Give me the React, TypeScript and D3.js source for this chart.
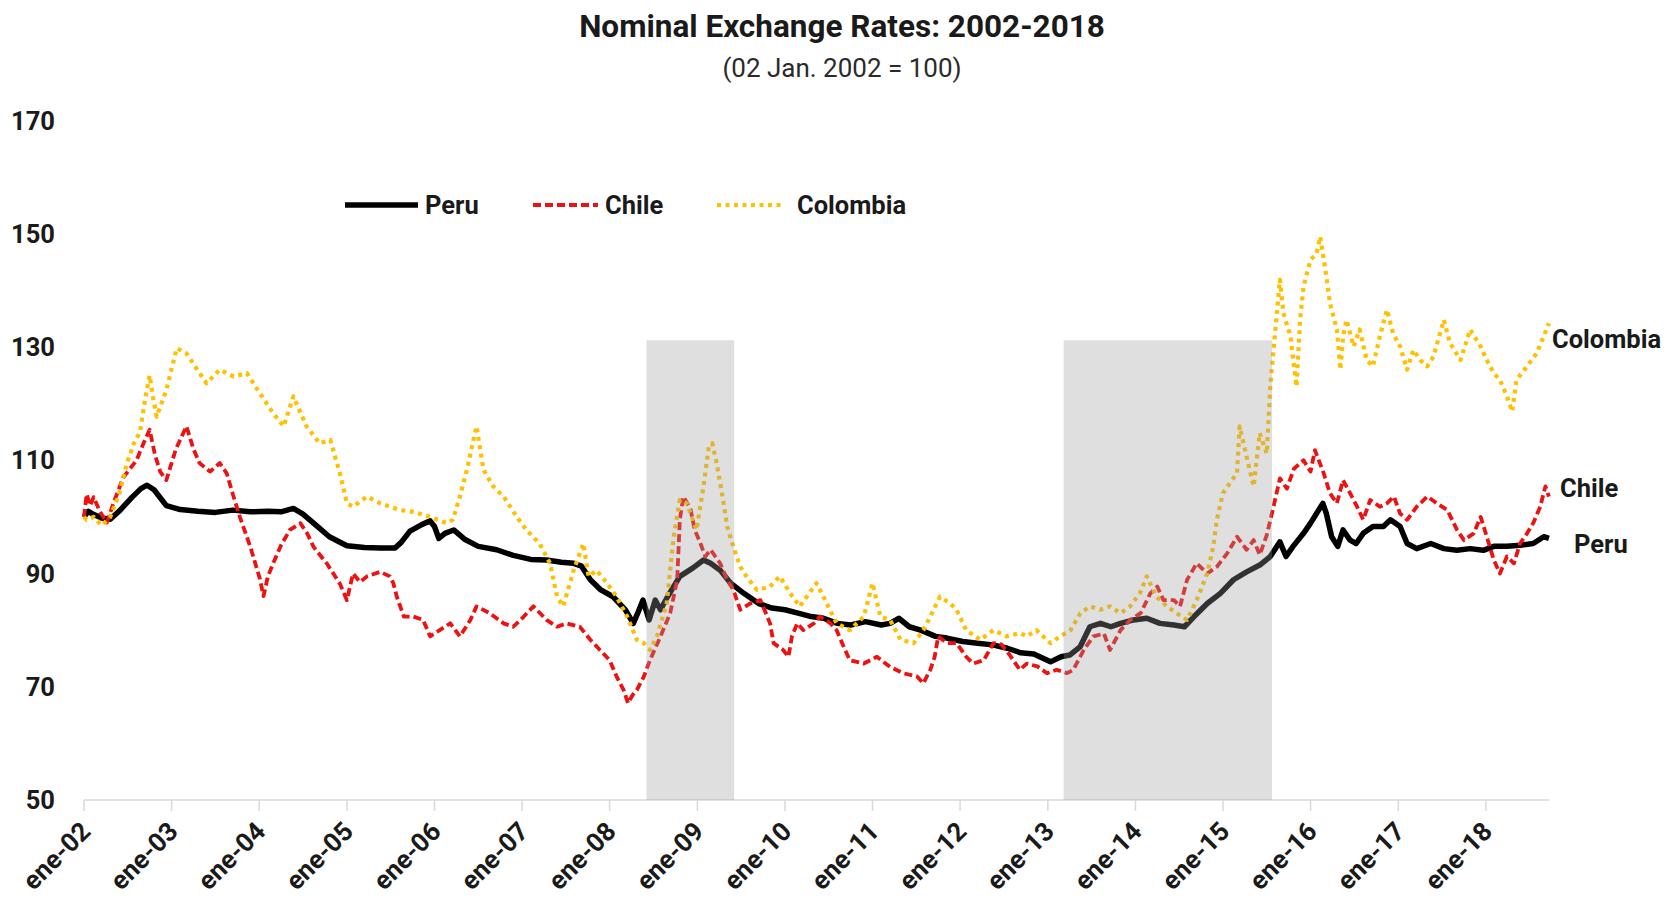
import React, { useEffect } from "react";
import * as d3 from "d3";

// Nominal exchange rate indices (02 Jan 2002 = 100), [decimal year, index]
const peruSeries: [number, number][] = [
  [2002.0, 100], [2002.05, 101], [2002.1, 100.5], [2002.2, 99.8], [2002.3, 99.6], [2002.4, 101], [2002.55, 103.5], [2002.65, 105], [2002.72, 105.6], [2002.8, 104.8], [2002.94, 102],
  [2003.1, 101.3], [2003.3, 101], [2003.5, 100.8], [2003.7, 101.2], [2003.9, 100.9], [2004.1, 101], [2004.25, 100.9], [2004.39, 101.5], [2004.5, 100.5], [2004.65, 98.5], [2004.8, 96.5],
  [2005.0, 94.9], [2005.2, 94.6], [2005.38, 94.5], [2005.55, 94.5], [2005.62, 95.5], [2005.72, 97.5], [2005.85, 98.6], [2005.95, 99.3], [2006.0, 98.3], [2006.05, 96.2], [2006.12, 97.1],
  [2006.22, 97.7], [2006.35, 96], [2006.5, 94.8], [2006.71, 94.2], [2006.9, 93.2], [2007.1, 92.5], [2007.28, 92.4], [2007.45, 92], [2007.59, 91.8], [2007.68, 91.3], [2007.78, 88.9],
  [2007.9, 87.1], [2008.04, 85.9], [2008.18, 83.6], [2008.27, 81.2], [2008.32, 83], [2008.38, 85.3], [2008.45, 81.8], [2008.52, 85.3], [2008.58, 83.6], [2008.66, 85.9], [2008.8, 89.5],
  [2008.95, 91], [2009.07, 92.4], [2009.15, 91.8], [2009.26, 90.6], [2009.38, 88.3], [2009.53, 86.5], [2009.7, 84.7], [2009.85, 83.9], [2010.0, 83.6], [2010.15, 83], [2010.3, 82.4],
  [2010.44, 82.1], [2010.6, 81.2], [2010.75, 80.9], [2010.92, 81.5], [2011.1, 80.9], [2011.2, 81.2], [2011.3, 82.1], [2011.42, 80.6], [2011.55, 80], [2011.72, 78.9], [2011.85, 78.6],
  [2012.03, 78], [2012.2, 77.7], [2012.37, 77.4], [2012.54, 76.8], [2012.69, 76], [2012.84, 75.8], [2013.03, 74.4], [2013.15, 75.3], [2013.25, 75.6], [2013.37, 77.1], [2013.48, 80.6],
  [2013.6, 81.2], [2013.72, 80.6], [2013.83, 81.2], [2013.98, 81.8], [2014.13, 82.1], [2014.28, 81.2], [2014.44, 80.9], [2014.56, 80.6], [2014.67, 82.4], [2014.82, 84.7], [2014.97, 86.5],
  [2015.12, 88.9], [2015.27, 90.3], [2015.42, 91.5], [2015.54, 93], [2015.65, 95.6], [2015.72, 93], [2015.8, 94.8], [2015.92, 97.1], [2016.0, 98.9], [2016.14, 102.4], [2016.18, 100.6],
  [2016.24, 96.5], [2016.31, 94.8], [2016.37, 97.7], [2016.45, 95.9], [2016.52, 95.3], [2016.6, 97.1], [2016.71, 98.3], [2016.83, 98.3], [2016.91, 99.5], [2017.02, 98.3], [2017.1, 95.3],
  [2017.21, 94.4], [2017.37, 95.3], [2017.52, 94.4], [2017.67, 94.1], [2017.82, 94.4], [2017.97, 94.1], [2018.09, 94.8], [2018.24, 94.8], [2018.39, 95], [2018.54, 95.3], [2018.66, 96.5],
  [2018.72, 96.2],
];

const chileSeries: [number, number][] = [
  [2002.0, 100], [2002.03, 104], [2002.07, 102], [2002.11, 103.5], [2002.18, 101], [2002.26, 99], [2002.35, 103], [2002.45, 107], [2002.6, 110], [2002.68, 113], [2002.75, 115.4],
  [2002.81, 111], [2002.87, 108], [2002.94, 106.5], [2003.05, 112], [2003.17, 116], [2003.25, 112], [2003.32, 109.5], [2003.44, 108], [2003.55, 109.5], [2003.63, 107.7], [2003.7, 104],
  [2003.78, 100], [2003.9, 94.7], [2004.01, 89], [2004.05, 86], [2004.1, 89.5], [2004.16, 91.8], [2004.25, 95], [2004.35, 97.7], [2004.47, 98.9], [2004.55, 97], [2004.62, 94.7],
  [2004.77, 91.8], [2004.92, 88.2], [2005.0, 85.3], [2005.07, 90], [2005.15, 88.5], [2005.23, 89.5], [2005.38, 90.3], [2005.49, 89.5], [2005.53, 88.3], [2005.57, 85.9], [2005.65, 82.4],
  [2005.76, 82.4], [2005.87, 81.8], [2005.95, 78.9], [2006.06, 80], [2006.18, 81.2], [2006.29, 78.9], [2006.41, 81.8], [2006.48, 84.2], [2006.63, 83], [2006.79, 81.2], [2006.9, 80.6],
  [2007.02, 82.4], [2007.13, 84.2], [2007.28, 81.8], [2007.4, 80.6], [2007.51, 81.2], [2007.66, 80.6], [2007.78, 78.3], [2007.89, 76.5], [2008.0, 74.7], [2008.08, 71.8], [2008.16, 69.4],
  [2008.21, 67.1], [2008.26, 68.5], [2008.31, 69.4], [2008.39, 71.8], [2008.46, 74.7], [2008.58, 78.9], [2008.69, 83], [2008.77, 88.9], [2008.8, 99.5], [2008.84, 103.6], [2008.92, 101.5],
  [2008.97, 97.7], [2009.03, 95.5], [2009.09, 93], [2009.15, 94.2], [2009.26, 91.8], [2009.34, 88.9], [2009.41, 87.1], [2009.49, 83.6], [2009.6, 84.7], [2009.72, 85.3], [2009.83, 81.2],
  [2009.87, 77.7], [2009.98, 76.5], [2010.04, 75.3], [2010.08, 78.9], [2010.14, 81.2], [2010.21, 80], [2010.33, 81.2], [2010.4, 82.4], [2010.52, 81.2], [2010.59, 80], [2010.67, 77.1],
  [2010.74, 74.7], [2010.9, 74.1], [2011.05, 75.3], [2011.2, 73.5], [2011.35, 72.4], [2011.51, 71.8], [2011.58, 70.6], [2011.66, 73], [2011.71, 75.3], [2011.75, 78.9], [2011.85, 77.7],
  [2011.96, 77.7], [2012.07, 75.3], [2012.15, 74.1], [2012.27, 74.7], [2012.38, 77.7], [2012.47, 77.5], [2012.57, 75.5], [2012.68, 73], [2012.76, 74.1], [2012.88, 73.6], [2012.99, 72.4],
  [2013.1, 73], [2013.22, 72.4], [2013.29, 73], [2013.41, 76.5], [2013.52, 78.9], [2013.64, 79.4], [2013.71, 76.5], [2013.83, 80], [2013.94, 81.8], [2014.06, 83], [2014.17, 86.5],
  [2014.25, 87.7], [2014.32, 85.3], [2014.44, 85.3], [2014.51, 84.2], [2014.59, 88.9], [2014.7, 91.8], [2014.82, 90], [2014.93, 91.2], [2015.05, 93.6], [2015.16, 96.5], [2015.27, 94.2],
  [2015.35, 95.9], [2015.42, 93.3], [2015.5, 96.8], [2015.58, 102], [2015.65, 106.8], [2015.73, 105], [2015.81, 108.5], [2015.92, 110], [2016.0, 108], [2016.05, 111.8], [2016.15, 107.7],
  [2016.22, 104.2], [2016.3, 102.4], [2016.37, 106.5], [2016.45, 104.2], [2016.53, 101.8], [2016.6, 99.5], [2016.68, 103], [2016.79, 101.8], [2016.87, 102.4], [2016.95, 103.6],
  [2017.02, 100.6], [2017.1, 99.5], [2017.21, 101.8], [2017.33, 103.6], [2017.44, 102.4], [2017.56, 101.2], [2017.67, 97.7], [2017.75, 95.9], [2017.86, 97.1], [2017.94, 100],
  [2018.01, 96.5], [2018.09, 92.4], [2018.16, 90], [2018.24, 93], [2018.32, 91.8], [2018.39, 95.3], [2018.47, 97.1], [2018.54, 98.9], [2018.62, 101.8], [2018.68, 105.4], [2018.72, 103.6],
];

const colombiaSeries: [number, number][] = [
  [2002.0, 100], [2002.03, 99.5], [2002.11, 100], [2002.2, 98.5], [2002.3, 100], [2002.4, 104], [2002.49, 109.5], [2002.57, 113], [2002.64, 115], [2002.7, 121], [2002.75, 125],
  [2002.79, 121], [2002.83, 117.7], [2002.94, 122.4], [2003.06, 129.8], [2003.17, 128.9], [2003.32, 125.4], [2003.4, 123.6], [2003.55, 126], [2003.71, 124.8], [2003.86, 125.4],
  [2004.01, 121.8], [2004.16, 118.3], [2004.28, 116], [2004.39, 121.3], [2004.54, 116], [2004.69, 113], [2004.81, 113.6], [2004.92, 107.7], [2005.0, 102.4], [2005.07, 101.8],
  [2005.23, 103.6], [2005.38, 102.4], [2005.61, 101.2], [2005.76, 100.9], [2005.95, 100], [2006.14, 98.9], [2006.21, 99.5], [2006.29, 103.6], [2006.37, 108.3], [2006.48, 116],
  [2006.56, 108.3], [2006.67, 105.4], [2006.79, 103.6], [2006.94, 100], [2007.05, 97.7], [2007.2, 95.3], [2007.32, 91.8], [2007.4, 85.9], [2007.47, 84.2], [2007.59, 90.6], [2007.7, 95.3],
  [2007.76, 89.5], [2007.85, 90.6], [2007.97, 88.3], [2008.08, 85.9], [2008.2, 82.4], [2008.31, 78.3], [2008.39, 77.7], [2008.46, 76.5], [2008.54, 78.9], [2008.65, 84.7], [2008.73, 96.5],
  [2008.8, 103], [2008.88, 102.4], [2008.99, 97.7], [2009.07, 105.4], [2009.13, 112.4], [2009.17, 113], [2009.22, 109.5], [2009.26, 106], [2009.3, 102.4], [2009.34, 98.3], [2009.41, 94.8],
  [2009.49, 91.2], [2009.56, 89.5], [2009.68, 87.1], [2009.83, 87.7], [2009.94, 89.5], [2010.06, 86.5], [2010.17, 84.2], [2010.36, 88.3], [2010.44, 85.9], [2010.59, 81.2], [2010.74, 80],
  [2010.9, 82.4], [2011.0, 88.3], [2011.09, 82.4], [2011.2, 81.8], [2011.32, 78.3], [2011.47, 77.7], [2011.58, 80], [2011.66, 82.4], [2011.77, 85.9], [2011.89, 84.7], [2011.96, 83.6],
  [2012.07, 80], [2012.23, 78.3], [2012.38, 80], [2012.53, 78.9], [2012.68, 79.5], [2012.76, 78.9], [2012.87, 80], [2013.03, 77.7], [2013.14, 78.9], [2013.26, 80], [2013.37, 83],
  [2013.48, 84.2], [2013.6, 83.6], [2013.71, 84.2], [2013.83, 83], [2013.94, 84.2], [2014.05, 86.5], [2014.13, 89.5], [2014.24, 85.9], [2014.36, 84.2], [2014.47, 83], [2014.59, 81.8],
  [2014.7, 85.3], [2014.82, 90], [2014.89, 94.8], [2014.93, 99.5], [2015.0, 104.2], [2015.08, 106], [2015.16, 107.7], [2015.19, 116], [2015.27, 110.6], [2015.35, 105.4], [2015.42, 114.8],
  [2015.5, 111.2], [2015.54, 123], [2015.58, 130], [2015.65, 141.9], [2015.69, 136], [2015.77, 131.9], [2015.84, 123], [2015.88, 134.8], [2015.92, 140.7], [2016.0, 145.4], [2016.07, 146.6],
  [2016.11, 149.5], [2016.18, 142.5], [2016.22, 137.8], [2016.3, 133.1], [2016.34, 126], [2016.37, 131.9], [2016.41, 134.8], [2016.49, 130.1], [2016.56, 133.1], [2016.64, 127.7],
  [2016.71, 126.6], [2016.79, 131.9], [2016.87, 136.6], [2016.94, 132.4], [2017.02, 130.1], [2017.1, 126], [2017.17, 129.5], [2017.25, 127.7], [2017.33, 126.6], [2017.4, 128.3],
  [2017.52, 134.8], [2017.59, 130.7], [2017.71, 127.7], [2017.82, 133.1], [2017.94, 130.1], [2018.01, 127.7], [2018.09, 125.4], [2018.16, 124.2], [2018.24, 121.3], [2018.3, 118.6],
  [2018.35, 124.2], [2018.47, 126.6], [2018.58, 128.9], [2018.66, 131.9], [2018.72, 134.2],
];

const seriesNames = ["Peru", "Chile", "Colombia"];
const yTickValues = [50, 70, 90, 110, 130, 150, 170];
const tickYears = d3.range(2002, 2019);
const monthAbbrev = "ene";
// Highlighted periods: [start, end] as decimal years
const shadedPeriods: [number, number][] = [
  [2008.42, 2009.42],
  [2013.18, 2015.56],
];
const shadedTop = 131.2;

const W = 1673;
const H = 898;
const FONT = "Roboto, 'Open Sans', sans-serif";

const decToDate = (d: number) => {
  const yr = Math.floor(d);
  const s = Date.UTC(yr, 0, 1);
  const e = Date.UTC(yr + 1, 0, 1);
  return new Date(s + (d - yr) * (e - s));
};

const x = d3
  .scaleUtc()
  .domain([new Date(Date.UTC(2002, 0, 1)), new Date(Date.UTC(2018, 8, 21))])
  .range([84, 1549]);
const y = d3.scaleLinear().domain([50, 170]).range([800, 120.6]);

const line = d3
  .line<[number, number]>()
  .x((p) => x(decToDate(p[0])))
  .y((p) => y(p[1]));

const styles = {
  Peru: { stroke: "#000000", width: 5.5, dash: undefined as string | undefined },
  Chile: { stroke: "#ee1111", width: 3.8, dash: "8 4" },
  Colombia: { stroke: "#ffc000", width: 4.2, dash: "4 4.5" },
};

export default function App() {
  useEffect(() => {
    document.body.style.margin = "0";
  }, []);

  const data: Record<string, [number, number][]> = {
    Peru: peruSeries,
    Chile: chileSeries,
    Colombia: colombiaSeries,
  };

  const legendItems = [
    { name: seriesNames[0], x0: 345, x1: 418, tx: 425 },
    { name: seriesNames[1], x0: 533, x1: 598, tx: 605 },
    { name: seriesNames[2], x0: 717, x1: 785, tx: 797 },
  ];

  const endLabels = [
    { name: "Colombia", x: 1552, y: 339 },
    { name: "Chile", x: 1560, y: 488 },
    { name: "Peru", x: 1574, y: 544 },
  ];

  return (
    <svg
      width={W}
      height={H}
      style={{ position: "absolute", left: 0, top: 0, background: "#fff" }}
      fontFamily={FONT}
    >
      <rect width={W} height={H} fill="#fff" />
      {/* title */}
      <text x={842} y={37} textAnchor="middle" fontSize={31.5} fontWeight={700} fill="#1a1a1a">
        Nominal Exchange Rates: 2002-2018
      </text>
      <text x={842} y={77} textAnchor="middle" fontSize={26} fill="#2a2a2a">
        (02 Jan. 2002 = 100)
      </text>

      {/* y axis labels */}
      {yTickValues.map((v) => (
        <text key={v} x={55} y={y(v)} dy="0.36em" textAnchor="end" fontSize={25.5} fontWeight={700} fill="#1a1a1a">
          {v}
        </text>
      ))}

      {/* x axis */}
      <line x1={x.range()[0]} x2={x.range()[1]} y1={y(50)} y2={y(50)} stroke="#d9d9d9" strokeWidth={1.5} />
      {tickYears.map((yr) => {
        const px = x(new Date(Date.UTC(yr, 0, 1)));
        return (
          <g key={yr}>
            <line x1={px} x2={px} y1={y(50)} y2={y(50) + 11} stroke="#d9d9d9" strokeWidth={1.5} />
            <text
              transform={`translate(${px + 8},${y(50) + 33}) rotate(-45)`}
              textAnchor="end"
              fontSize={26}
              fontWeight={700}
              fill="#1a1a1a"
            >
              {`${monthAbbrev}-${String(yr % 100).padStart(2, "0")}`}
            </text>
          </g>
        );
      })}

      {/* series */}
      {seriesNames.map((n) => {
        const s = styles[n as keyof typeof styles];
        return (
          <path
            key={n}
            d={line(data[n]) || ""}
            fill="none"
            stroke={s.stroke}
            strokeWidth={s.width}
            strokeDasharray={s.dash}
            strokeLinejoin="round"
          />
        );
      })}

      {/* shaded periods overlay */}
      {shadedPeriods.map(([a, b], i) => {
        const x0 = x(decToDate(a));
        const x1 = x(decToDate(b));
        return (
          <rect
            key={i}
            x={x0}
            y={y(shadedTop)}
            width={x1 - x0}
            height={y(50) - y(shadedTop)}
            fill="rgb(157,157,157)"
            fillOpacity={0.32}
          />
        );
      })}

      {/* legend */}
      {legendItems.map((it) => {
        const s = styles[it.name as keyof typeof styles];
        return (
          <g key={it.name}>
            <line x1={it.x0} x2={it.x1} y1={205} y2={205} stroke={s.stroke} strokeWidth={s.width} strokeDasharray={s.dash} />
            <text x={it.tx} y={214} fontSize={25.5} fontWeight={700} fill="#1a1a1a">
              {it.name}
            </text>
          </g>
        );
      })}

      {/* end-of-line labels */}
      {endLabels.map((l) => (
        <text key={l.name} x={l.x} y={l.y} dy="0.36em" fontSize={25.5} fontWeight={700} fill="#1a1a1a">
          {l.name}
        </text>
      ))}
    </svg>
  );
}
